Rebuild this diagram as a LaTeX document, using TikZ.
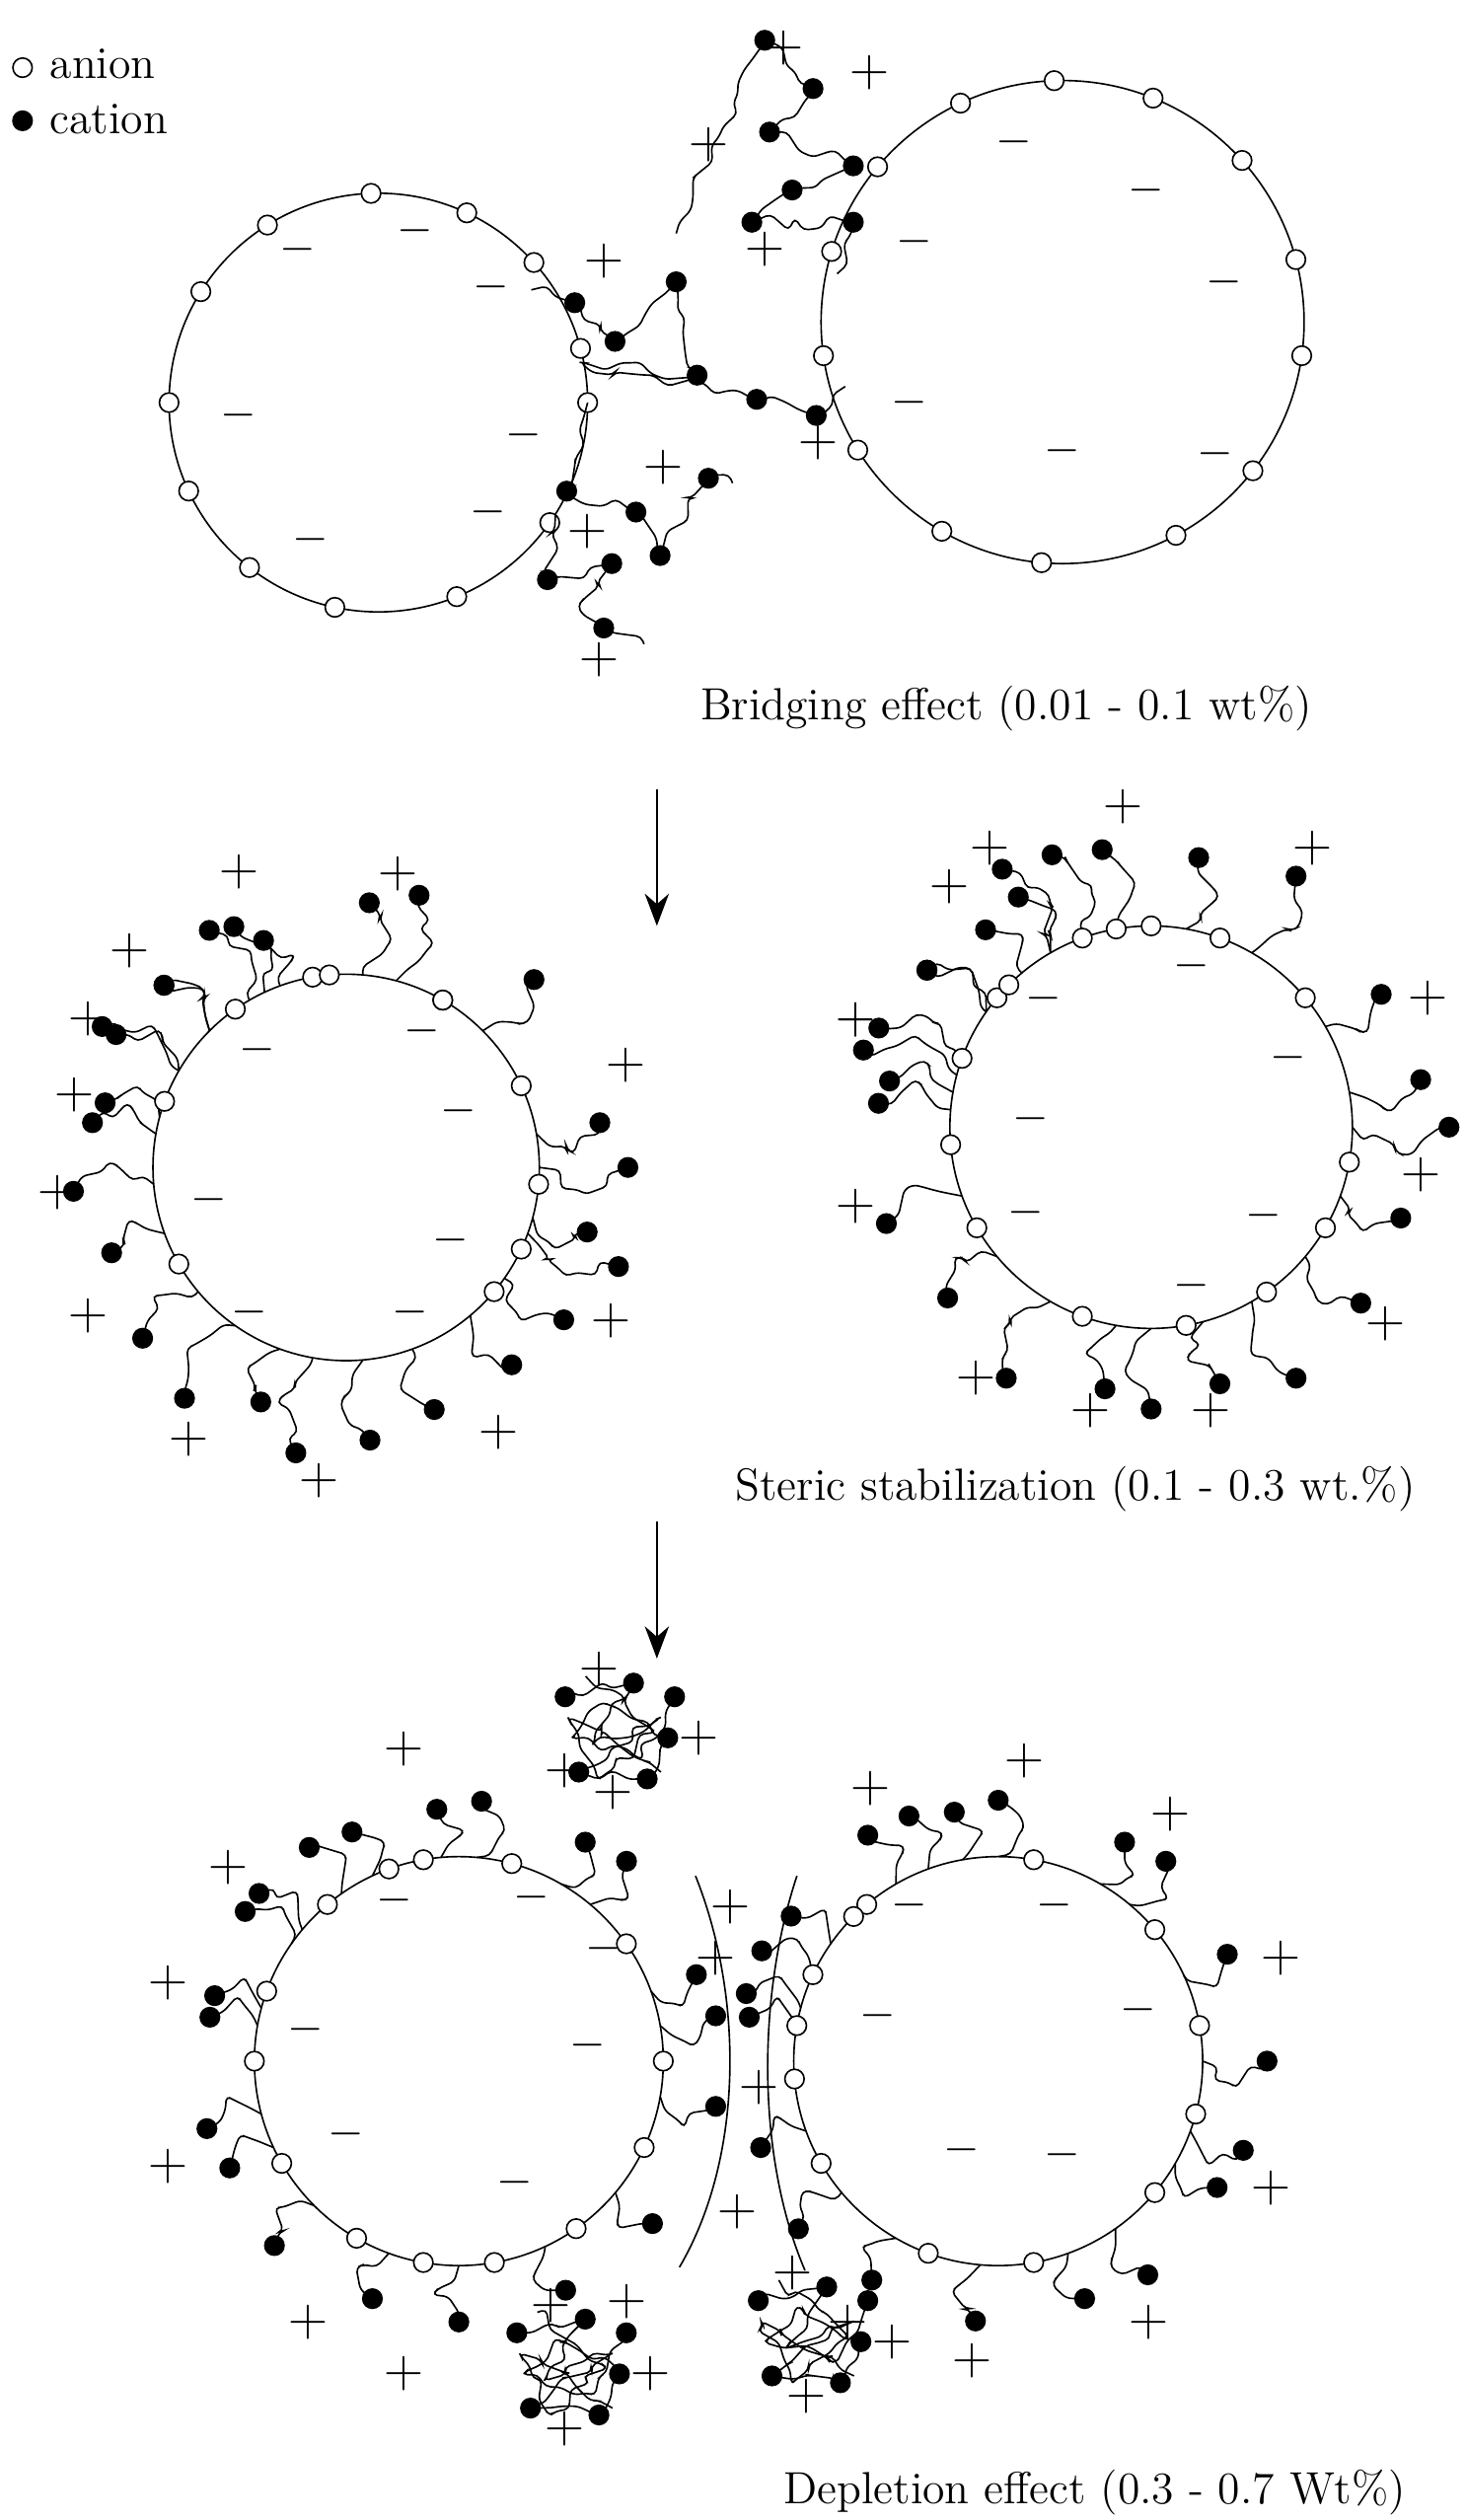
\documentclass[tikz,border=0pt]{standalone}
\usetikzlibrary{decorations.pathmorphing,arrows.meta}
\begin{document}
\begin{tikzpicture}[x=0.5pt,y=-0.5pt,
  an/.style={circle,draw,fill=white,inner sep=0,minimum size=6pt,line width=0.5pt},
  ca/.style={circle,fill=black,inner sep=0,minimum size=6.5pt},
  chain/.style={line width=0.5pt,decorate,decoration={random steps,segment length=4pt,amplitude=2.5pt},rounded corners=1.5pt},
  pl/.style={font=\fontsize{17}{17}\selectfont},
  mi/.style={font=\fontsize{15}{15}\selectfont},
  lab/.style={font=\fontsize{14}{15}\selectfont}]
\pgfmathsetseed{7}
\useasboundingbox (0,0) rectangle (910,1565);
\newcommand\sphere[6]{% cx cy r anions cations(a/d) pluses(a/d)
 \begin{scope}[shift={(#1,#2)}]
  \draw[line width=0.5pt] (0,0) circle[radius=#3];
  \foreach \a/\d in {#5}{\draw[chain] (\a:#3) -- (\a+6:#3+\d/2) -- (\a:#3+\d); \node[ca] at (\a:#3+\d){};}
  \foreach \a in {#4}{\node[an] at (\a:#3){};}
  \foreach \a/\d in {#6}{\node[pl] at (\a:#3+\d){+};}
 \end{scope}}
% legend
\node[an] (la) at (14,42){}; \node[lab,anchor=west] at (24,40){anion};
\node[ca] (lc) at (14,75){}; \node[lab,anchor=west] at (24,74){cation};
% ---- bridging
\sphere{235}{250}{130}{0,35,68,102,128,155,180,212,238,268,295,318,345}{}{}
\sphere{660}{200}{150}{8,38,62,95,120,148,172,197,220,245,268,292,318,345}{}{}
\foreach \p in {(185,155),(258,143),(305,178),(148,258),(193,335),(303,318),(325,270),(630,88),(712,118),(760,175),(568,150),(565,250),(660,280),(755,282)}\node[mi] at \p {$-$};
\draw[chain] (420,145)--(475,25)--(505,55)--(478,82)--(530,103)--(492,118)--(467,138)--(530,138)--(520,170);
\draw[chain] (330,180)--(357,188)--(382,212)--(420,175)--(433,233)--(360,225)--(470,248)--(507,258)--(525,240);
\draw[chain] (365,250)--(352,305)--(395,318)--(410,345)--(440,297)--(455,300);
\draw[chain] (345,320)--(340,360)--(380,350)--(360,375)--(375,390)--(400,400);
\foreach \p in {(357,188),(382,212),(420,175),(433,233),(470,248),(507,258),(352,305),(395,318),(410,345),(440,297),(340,360),(380,350),(375,390),(475,25),(505,55),(478,82),(530,103),(492,118),(467,138),(530,138)}\node[ca] at \p {};
\foreach \p in {(487,30),(540,45),(440,90),(475,155),(375,162),(508,275),(412,290),(365,330),(372,410)}\node[pl] at \p {+};
\node[lab] at (625,440){Bridging effect (0.01 - 0.1 wt\%)};
\draw[-{Stealth[length=10pt]},line width=0.7pt] (408,490) -- (408,575);
% ---- steric
\sphere{215}{725}{120}{-100,-60,-25,5,25,40,150,200,235,265,300}{-165/35,-150/45,-135/40,-120/50,-110/30,-85/45,-75/55,-45/45,-10/40,0/55,15/35,20/60,35/45,50/40,70/40,85/50,100/60,110/35,125/55,140/45,160/35,175/50,190/40,210/55,225/40,245/45}{-150/65,-110/75,-80/65,-20/65,30/70,60/70,95/75,120/75,150/65,175/60,195/55,225/70}
\sphere{715}{700}{125}{-140,-110,-90,-70,-40,10,30,55,80,110,150,175,200,225,260}{-170/40,-160/55,-145/45,-130/35,-120/60,-100/50,-80/45,-60/55,-30/40,-10/45,0/60,20/40,40/45,60/55,75/40,90/50,100/40,120/55,140/40,160/50,185/45,195/60,215/45,240/40,250/55}{-160/70,-120/75,-95/75,-60/75,-25/65,10/45,40/65,78/55,102/55,125/65,165/65,200/70,230/70}
\foreach \p in {(262,640),(285,690),(130,745),(280,770),(255,815),(160,652),(155,815),(740,600),(800,657),(640,695),(637,753),(785,755),(740,798),(648,620)}\node[mi] at \p {$-$};
\node[lab] at (668,925){Steric stabilization (0.1 - 0.3 wt.\%)};
\draw[-{Stealth[length=10pt]},line width=0.7pt] (408,945) -- (408,1030);
% ---- depletion
\sphere{285}{1280}{127}{-110,-75,-35,0,25,55,80,100,120,150,180,200,230,260}{-165/30,-140/35,-125/35,-95/30,-85/35,-60/30,-50/35,-20/30,-10/35,10/35,40/30,65/30,90/35,110/30,135/35,155/30,165/35,190/30,215/35,245/30}{-140/60,-100/70,-70/65,5/60,55/55,100/70,120/60,160/65,195/60}
\sphere{620}{1280}{127}{-130,-80,-40,-10,15,40,80,110,150,175,190,205,225}{-170/30,-155/35,-120/35,-100/30,-90/35,-60/30,-50/35,-25/30,0/40,20/35,30/30,55/35,70/30,95/35,120/30,140/35,160/30,195/35,215/30,250/35}{-160/60,-115/60,-85/60,-55/60,-20/60,25/60,60/60,95/60,120/60,150/60,210/65}
\foreach \p in {(245,1180),(330,1178),(375,1210),(190,1260),(365,1270),(215,1325),(320,1355),(565,1183),(655,1183),(545,1252),(707,1248),(597,1335),(660,1338)}\node[mi] at \p {$-$};
\draw[line width=0.5pt] (432,1165) .. controls (462,1240) and (462,1340) .. (422,1408);
\draw[line width=0.5pt] (495,1165) .. controls (470,1240) and (470,1340) .. (500,1410);
\foreach \cx/\cy in {385/1075,355/1470,505/1450}{
 \begin{scope}[shift={(\cx,\cy)},scale=0.85]
 \draw[chain] (-40,-25)--(10,-35)--(-20,10)--(30,-10)--(-30,30)--(20,35)--(35,5)--(-10,-20)--(-35,5)--(15,20)--(40,-25);
 \draw[chain] (-25,-40)--(25,0)--(-15,35)--(-38,-10)--(30,30);
 \foreach \p in {(-40,-25),(10,-35),(35,5),(-30,30),(20,35),(40,-25)}\node[ca] at \p {};
 \foreach \p in {(-15,-45),(58,5),(-5,45)}\node[pl] at \p {+};
 \end{scope}}
\node[lab] at (680,1548){Depletion effect (0.3 - 0.7 Wt\%)};
\end{tikzpicture}
\end{document}
